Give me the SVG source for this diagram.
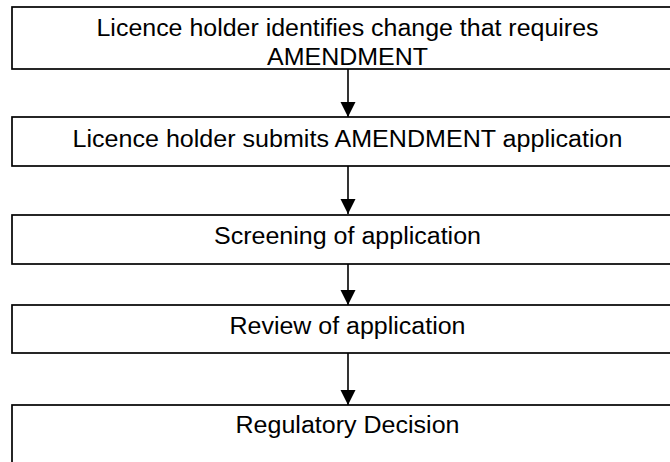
<svg xmlns="http://www.w3.org/2000/svg" width="670" height="462" viewBox="0 0 670 462">
  <style>
    .box { fill: #ffffff; stroke: #000000; stroke-width: 1.7; }
    .label { font-family: "Liberation Sans", Arial, sans-serif; font-size: 23px; fill: #000000; text-anchor: middle; }
    .link { stroke: #000000; stroke-width: 1.6; fill: none; }
  </style>
  <defs>
    <marker id="arrow" markerUnits="userSpaceOnUse" markerWidth="16" markerHeight="16" refX="15" refY="7.5" orient="auto">
      <path d="M0,0 L15,7.5 L0,15 Z" fill="#000000"/>
    </marker>
  </defs>
  <rect x="0" y="0" width="670" height="462" fill="#ffffff"/>

  <g id="step-identify">
    <rect class="box" x="12" y="7" width="671" height="62"/>
    <text class="label" x="347.5" y="36" textLength="502" lengthAdjust="spacingAndGlyphs">Licence holder identifies change that requires</text>
    <text class="label" x="347.5" y="65" textLength="161" lengthAdjust="spacingAndGlyphs">AMENDMENT</text>
  </g>

  <g id="step-submit">
    <rect class="box" x="12" y="117" width="671" height="49"/>
    <text class="label" x="347.5" y="146.5" textLength="550" lengthAdjust="spacingAndGlyphs">Licence holder submits AMENDMENT application</text>
  </g>

  <g id="step-screening">
    <rect class="box" x="12" y="215" width="671" height="49"/>
    <text class="label" x="347.5" y="243.5" textLength="267" lengthAdjust="spacingAndGlyphs">Screening of application</text>
  </g>

  <g id="step-review">
    <rect class="box" x="12" y="305" width="671" height="48"/>
    <text class="label" x="347.5" y="333.5" textLength="236" lengthAdjust="spacingAndGlyphs">Review of application</text>
  </g>

  <g id="step-decision">
    <rect class="box" x="12" y="405" width="671" height="70"/>
    <text class="label" x="347.5" y="433" textLength="224" lengthAdjust="spacingAndGlyphs">Regulatory Decision</text>
  </g>

  <g id="connectors">
    <line class="link" x1="348" y1="69" x2="348" y2="117" marker-end="url(#arrow)"/>
    <line class="link" x1="348" y1="166" x2="348" y2="214" marker-end="url(#arrow)"/>
    <line class="link" x1="348" y1="264" x2="348" y2="305" marker-end="url(#arrow)"/>
    <line class="link" x1="348" y1="353" x2="348" y2="405" marker-end="url(#arrow)"/>
  </g>
</svg>
